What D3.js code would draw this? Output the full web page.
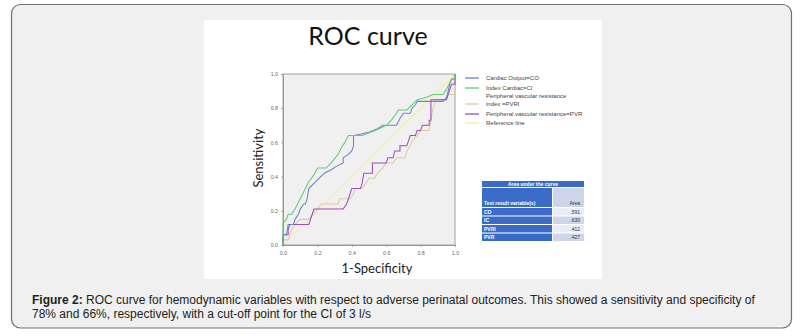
<!DOCTYPE html>
<html><head><meta charset="utf-8">
<script src="https://cdn.jsdelivr.net/npm/d3@7"></script>
<style>html,body{margin:0;padding:0;background:#fff;}svg{display:block;}</style>
</head><body><svg id="c" width="802" height="336"></svg>
<script>
// ---------- data ----------
const ticks = [0, 0.2, 0.4, 0.6, 0.8, 1.0];
const cardiacOutput = [[0,0],[0,0.06],[0.02,0.06],[0.03,0.12],[0.06,0.12],[0.07,0.15],[0.09,0.18],[0.1,0.21],[0.12,0.24],[0.13,0.24],[0.14,0.27],[0.15,0.33],[0.18,0.36],[0.21,0.39],[0.24,0.42],[0.28,0.44],[0.31,0.46],[0.35,0.48],[0.35,0.51],[0.38,0.53],[0.4,0.55],[0.41,0.58],[0.41,0.64],[0.46,0.65],[0.5,0.66],[0.55,0.68],[0.58,0.7],[0.66,0.7],[0.68,0.74],[0.7,0.77],[0.74,0.77],[0.75,0.8],[0.77,0.82],[0.78,0.84],[0.85,0.84],[0.93,0.84],[0.95,0.86],[0.96,0.9],[0.97,0.94],[0.98,0.97],[1,0.97],[1,1]];
const indexCardiac = [[0,0],[0,0.13],[0.02,0.15],[0.03,0.18],[0.05,0.18],[0.07,0.21],[0.09,0.25],[0.11,0.29],[0.13,0.33],[0.15,0.37],[0.18,0.41],[0.2,0.45],[0.25,0.45],[0.28,0.48],[0.32,0.53],[0.34,0.57],[0.36,0.6],[0.38,0.64],[0.42,0.64],[0.46,0.64],[0.51,0.66],[0.56,0.68],[0.6,0.7],[0.63,0.73],[0.66,0.77],[0.67,0.79],[0.72,0.79],[0.75,0.82],[0.78,0.85],[0.82,0.86],[0.85,0.87],[0.87,0.88],[0.93,0.88],[0.95,0.91],[0.97,0.95],[0.98,0.97],[1,0.97],[1,1]];
const pvri = [[0,0],[0,0.03],[0.03,0.03],[0.04,0.06],[0.05,0.09],[0.07,0.12],[0.1,0.15],[0.15,0.15],[0.17,0.18],[0.2,0.21],[0.22,0.24],[0.32,0.24],[0.33,0.27],[0.39,0.27],[0.41,0.3],[0.42,0.33],[0.46,0.33],[0.48,0.36],[0.5,0.39],[0.53,0.39],[0.55,0.42],[0.58,0.45],[0.6,0.48],[0.64,0.48],[0.66,0.51],[0.71,0.51],[0.72,0.55],[0.74,0.58],[0.75,0.61],[0.78,0.64],[0.8,0.67],[0.85,0.67],[0.86,0.73],[0.87,0.79],[0.89,0.85],[0.95,0.85],[0.96,0.88],[1,0.88],[1,1]];
const pvr = [[0,0],[0,0.06],[0.03,0.06],[0.03,0.09],[0.04,0.12],[0.15,0.12],[0.16,0.15],[0.17,0.18],[0.18,0.21],[0.35,0.21],[0.37,0.24],[0.38,0.27],[0.39,0.3],[0.4,0.33],[0.45,0.33],[0.46,0.36],[0.47,0.42],[0.52,0.42],[0.52,0.48],[0.6,0.48],[0.61,0.51],[0.64,0.51],[0.65,0.55],[0.68,0.55],[0.68,0.58],[0.72,0.58],[0.73,0.61],[0.74,0.64],[0.77,0.64],[0.78,0.67],[0.8,0.67],[0.81,0.7],[0.85,0.7],[0.85,0.73],[0.86,0.73],[0.86,0.85],[0.95,0.85],[0.96,0.88],[0.97,0.91],[0.98,0.94],[1,0.94],[1,1]];
const referenceLine = [[0,0],[1,1]];
const legendLabels = [["Cardiac Output=CO"],["Index Cardiac=CI"],["Peripheral vascular resistance","index =PVRI"],["Peripheral vascular resistance=PVR"],["Reference line"]];
const aucVars = ["CO","IC","PVRI","PVR"];
const aucValues = [".591",".630",".412",".427"];

// ---------- drawing ----------
const svg = d3.select("#c");
svg.append("rect").attr("x",11.5).attr("y",4.5).attr("width",780).attr("height",323.5)
  .attr("rx",9).attr("fill","#f0f0f0").attr("stroke","#707070").attr("stroke-width",1.2);
svg.append("rect").attr("x",204).attr("y",20).attr("width",398).attr("height",259).attr("fill","#fff");

svg.append("text").attr("x",368).attr("y",45).attr("text-anchor","middle")
  .attr("font-family","Lato, 'Open Sans', sans-serif").attr("font-size",25).attr("fill","#111").text("ROC curve");

const x = d3.scaleLinear().domain([0,1]).range([283,455]);
const y = d3.scaleLinear().domain([0,1]).range([245,74]);

svg.append("rect").attr("x",x(0)).attr("y",y(1)).attr("width",x(1)-x(0)).attr("height",y(0)-y(1))
  .attr("fill","#f0f0f0").attr("stroke","#8a8a8a").attr("stroke-width",0.8);

const ax = svg.append("g").attr("transform",`translate(0,${y(0)})`)
  .call(d3.axisBottom(x).tickValues(ticks).tickFormat(d3.format(".1f")).tickSize(2).tickSizeOuter(0));
const ay = svg.append("g").attr("transform",`translate(${x(0)},0)`)
  .call(d3.axisLeft(y).tickValues(ticks).tickFormat(d3.format(".1f")).tickSize(2).tickSizeOuter(0));
[ax,ay].forEach(a=>{
  a.select(".domain").attr("stroke","#8a8a8a").attr("stroke-width",0.8);
  a.selectAll(".tick line").attr("stroke","#777").attr("stroke-width",0.6);
  a.selectAll("text").attr("font-size",5.3).attr("fill","#666").attr("font-family","Arial, sans-serif");
});
ax.selectAll("text").attr("dy","0.9em");

const line = d3.line().x(d=>x(d[0])).y(d=>y(d[1]));
const series = [
  {data:referenceLine,color:"#f3ef96"},
  {data:pvri,color:"#dccaa6"},
  {data:pvr,color:"#a24bb8"},
  {data:cardiacOutput,color:"#6f80cf"},
  {data:indexCardiac,color:"#5fcf6e"}
];
series.forEach(s=>{
  svg.append("path").attr("d",line(s.data)).attr("fill","none").attr("stroke",s.color).attr("stroke-width",1.05);
});

svg.append("text").attr("transform","translate(263,158) rotate(-90)").attr("text-anchor","middle")
  .attr("font-family","Lato, 'Open Sans', sans-serif").attr("font-size",13).attr("fill","#222").text("Sensitivity");
svg.append("text").attr("x",377).attr("y",273).attr("text-anchor","middle")
  .attr("font-family","Lato, 'Open Sans', sans-serif").attr("font-size",13).attr("fill","#222").text("1-Specificity");

// legend
const legendColors = ["#6f80cf","#5fcf6e","#dccaa6","#a24bb8","#f2ee8a"];
const legendY = [78,88,104,114,123];
legendLabels.forEach((lab,i)=>{
  svg.append("line").attr("x1",465).attr("x2",479).attr("y1",legendY[i]).attr("y2",legendY[i])
    .attr("stroke",legendColors[i]).attr("stroke-width",1.3);
  lab.forEach((t,j)=>{
    svg.append("text").attr("x",486).attr("y",(lab.length>1?legendY[i]-8+j*8:legendY[i])+2)
      .attr("font-family","Arial, sans-serif").attr("font-size",6).attr("fill","#444").text(t);
  });
});

// AUC table
const tx0=482, tx1=552, tx2=584;
svg.append("rect").attr("x",tx0).attr("y",181).attr("width",tx2-tx0).attr("height",6).attr("fill","#3a6bc6");
svg.append("text").attr("x",(tx0+tx2)/2).attr("y",186).attr("text-anchor","middle").attr("font-family","Arial, sans-serif")
  .attr("font-size",5).attr("font-weight","bold").attr("fill","#fff").text("Area under the curve");
svg.append("rect").attr("x",tx0).attr("y",188).attr("width",tx1-tx0).attr("height",19).attr("fill","#3a6bc6");
svg.append("rect").attr("x",tx1+1).attr("y",188).attr("width",tx2-tx1-1).attr("height",19).attr("fill","#cdd5ea");
svg.append("text").attr("x",tx0+2).attr("y",204.5).attr("font-family","Arial, sans-serif").attr("font-size",5)
  .attr("font-weight","bold").attr("fill","#fff").text("Test result variable(s)");
svg.append("text").attr("x",tx2-4).attr("y",204.5).attr("text-anchor","end").attr("font-family","Arial, sans-serif").attr("font-size",5)
  .attr("fill","#333").text("Area");
const rowY = d3.scaleBand().domain(aucVars).range([208,241]).paddingInner(0.12);
aucVars.forEach((v,i)=>{
  svg.append("rect").attr("x",tx0).attr("y",rowY(v)).attr("width",tx1-tx0).attr("height",rowY.bandwidth()).attr("fill","#3a6bc6");
  svg.append("rect").attr("x",tx1+1).attr("y",rowY(v)).attr("width",tx2-tx1-1).attr("height",rowY.bandwidth()).attr("fill",i%2?"#cfd6ea":"#e9edf6");
  svg.append("text").attr("x",tx0+2).attr("y",rowY(v)+rowY.bandwidth()/2+2).attr("font-family","Arial, sans-serif").attr("font-size",5)
    .attr("font-weight","bold").attr("fill","#fff").text(v);
  svg.append("text").attr("x",tx2-4).attr("y",rowY(v)+rowY.bandwidth()/2+2).attr("text-anchor","end").attr("font-family","Arial, sans-serif").attr("font-size",5)
    .attr("fill","#333").text(aucValues[i]);
});

// caption
const cap = svg.append("text").attr("font-family","'Liberation Sans', Arial, sans-serif").attr("font-size",12).attr("fill","#222");
const l1 = cap.append("tspan").attr("x",32).attr("y",304);
l1.append("tspan").attr("font-weight","bold").text("Figure 2:");
l1.append("tspan").text(" ROC curve for hemodynamic variables with respect to adverse perinatal outcomes. This showed a sensitivity and specificity of");
cap.append("tspan").attr("x",32).attr("y",318).text("78% and 66%, respectively, with a cut-off point for the CI of 3 l/s");
</script></body></html>
